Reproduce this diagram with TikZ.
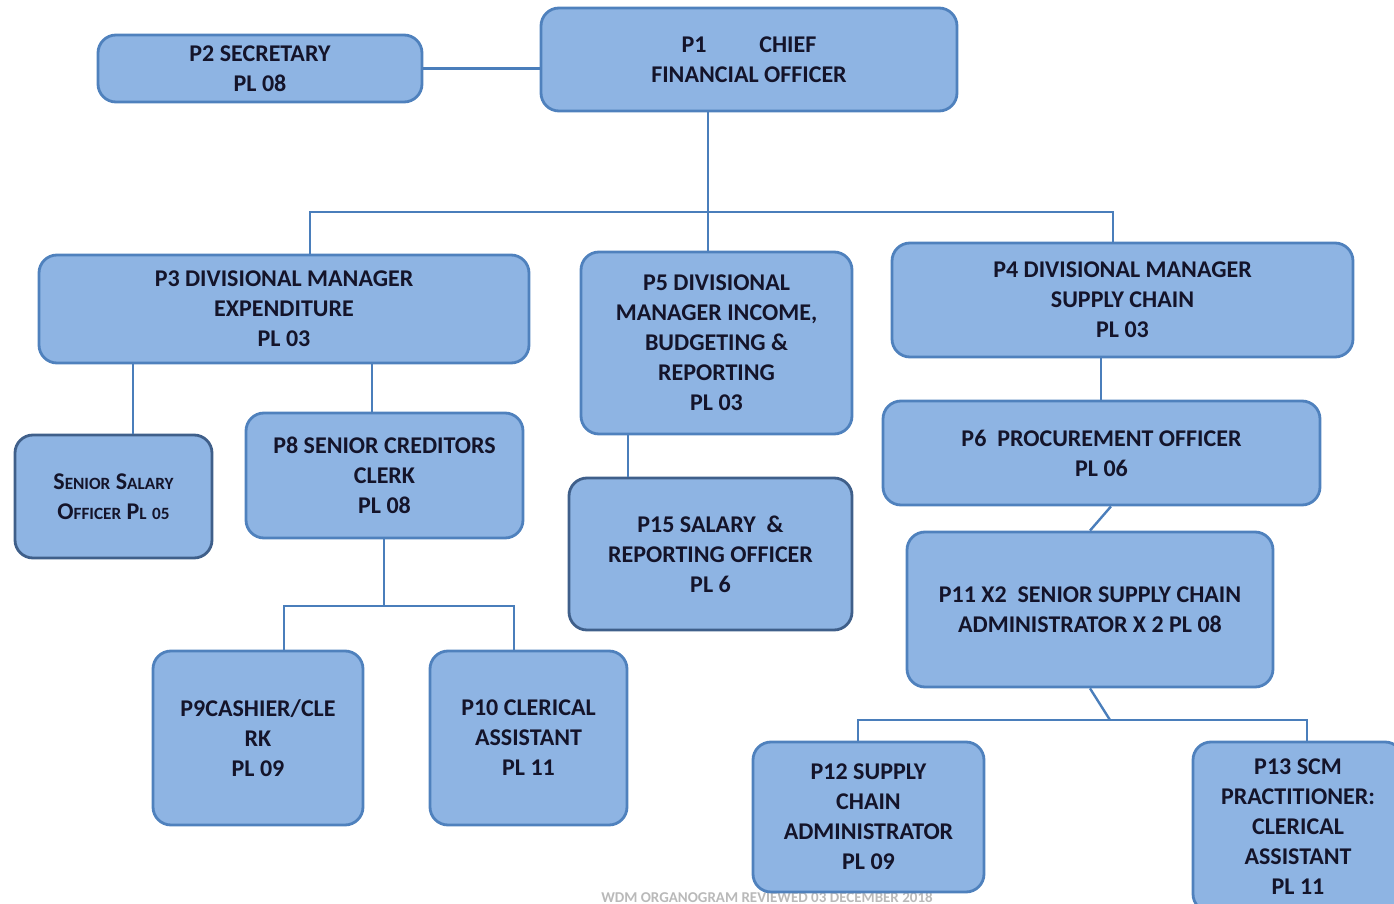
\documentclass[tikz,border=0pt]{standalone}
\usepackage{fontspec}
\setmainfont{Carlito}
\definecolor{boxfill}{HTML}{8EB4E3}
\definecolor{boxline}{HTML}{4F81BD}
\definecolor{boxdark}{HTML}{3F5F8A}
\definecolor{txt}{HTML}{14142A}
\definecolor{conn}{HTML}{4A7EBB}
\newcommand\bx[7][]{%
  \node[orgbox,#1,minimum width={(#5-#3)*0.5pt},minimum height={(#6-#4)*0.5pt}] (#2) at ({(#3+#5)/2},{(#4+#6)/2}) {#7};}
\newcommand\fsc[2]{#1{\fontsize{8.6}{10}\selectfont #2}}
\begin{document}
\begin{tikzpicture}[x=0.5pt,y=-0.5pt,
  orgbox/.style={draw=boxline,fill=boxfill,line width=1.4pt,rounded corners=9pt,
    inner sep=0pt,align=center,text=txt,font=\fontsize{12}{15}\selectfont\bfseries},
  darkbox/.style={draw=boxdark},
  conn/.style={draw=conn,line width=1.2pt}]
\useasboundingbox (0,0) rectangle (1394,904);
\clip (0,0) rectangle (1394,904);
% faint footer (behind the boxes)
\node[text=gray!55,font=\fontsize{7.5}{8}\selectfont\bfseries,anchor=south,inner sep=0pt] (foot) at (767,903.5) {WDM ORGANOGRAM REVIEWED 03 DECEMBER 2018};
% boxes
\bx{p2}{98}{35}{422}{102}{P2 SECRETARY\\PL 08}
\bx{p1}{541}{8}{957}{111}{P1\hspace{2.2em}CHIEF\\FINANCIAL OFFICER}
\bx{p3}{39}{255}{529}{363}{P3 DIVISIONAL MANAGER\\EXPENDITURE\\PL 03}
\bx{p5}{581}{252}{852}{434}{P5 DIVISIONAL\\MANAGER INCOME,\\BUDGETING \&\\REPORTING\\PL 03}
\bx{p4}{892}{243}{1353}{357}{P4 DIVISIONAL MANAGER\\SUPPLY CHAIN\\PL 03}
\bx[darkbox]{sso}{15}{435}{212}{558}{\fsc{S}{ENIOR} \fsc{S}{ALARY}\\\fsc{O}{FFICER} \fsc{P}{L} \fsc{}{05}}
\bx{p8}{246}{413}{523}{538}{P8 SENIOR CREDITORS\\CLERK\\PL 08}
\bx{p9}{153}{651}{363}{825}{P9CASHIER/CLE\\RK\\PL 09}
\bx{p10}{430}{651}{627}{825}{P10 CLERICAL\\ASSISTANT\\PL 11}
\bx[darkbox]{p15}{569}{478}{852}{630}{P15 SALARY\ \ \&\\REPORTING OFFICER\\PL 6}
\bx{p6}{883}{401}{1320}{505}{P6\ \ PROCUREMENT OFFICER\\PL 06}
\bx{p11}{907}{532}{1273}{687}{P11 X2\ \ SENIOR SUPPLY CHAIN\\ADMINISTRATOR X 2 PL 08}
\bx{p12}{753}{742}{984}{892}{P12 SUPPLY\\CHAIN\\ADMINISTRATOR\\PL 09}
\bx{p13}{1193}{742}{1403}{912}{P13 SCM\\PRACTITIONER:\\CLERICAL\\ASSISTANT\\PL 11}
% junction coordinates
\coordinate (jtop) at (708,212);
\coordinate (j8) at (384,606);
\coordinate (j11) at (1110,720);
% connectors
\draw[conn] (p2.east) -- (p2.east -| p1.west);
\draw[conn] (p1.south -| jtop) -- (p5.north -| jtop);
\draw[conn] (p3.north -| 310,0) |- (jtop) -| (p4.north -| 1113,0);
\draw[conn] (p3.south -| 133,0) -- (sso.north -| 133,0);
\draw[conn] (p3.south -| 372,0) -- (p8.north -| 372,0);
\draw[conn] (p8.south -| j8) -- (j8);
\draw[conn] (p9.north -| 284,0) |- (j8) -| (p10.north -| 514,0);
\draw[conn] (p5.south -| 628,0) -- (p15.north -| 628,0);
\draw[conn] (p4.south -| 1101,0) -- (p6.north -| 1101,0);
\draw[conn] (p6.south -| 1111,0) -- (p11.north -| 1090,0);
\draw[conn] (p11.south -| 1090,0) -- (j11);
\draw[conn] (p12.north -| 858,0) |- (j11) -| (p13.north -| 1307,0);
\end{tikzpicture}
\end{document}
